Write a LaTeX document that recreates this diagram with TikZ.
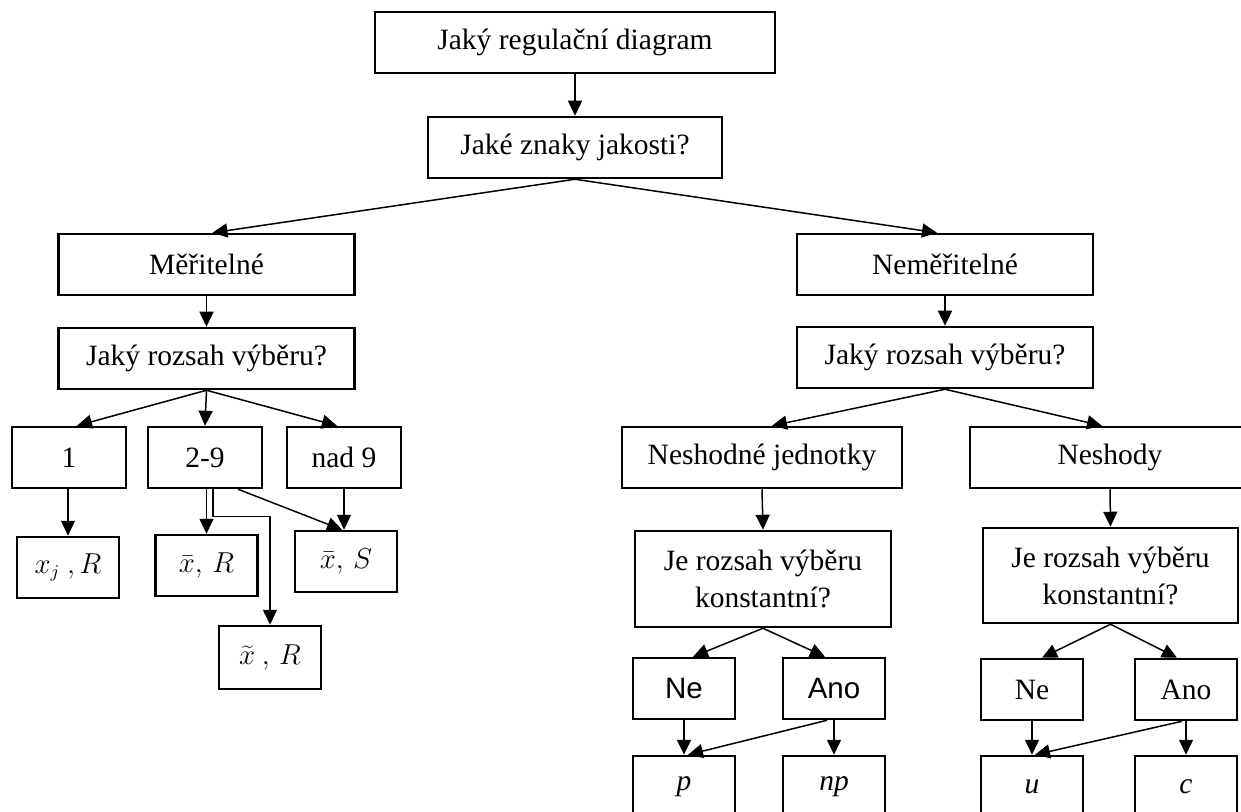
\documentclass[tikz,border=0pt]{standalone}
\usepackage{fontspec}
\setmainfont{Liberation Serif}
\newfontfamily\sansfont{Liberation Sans}
\usetikzlibrary{arrows.meta,calc}

\begin{document}
\begin{tikzpicture}[ ->, >={Triangle[length=7.5pt,width=7pt]}, line width=0.75pt
                   , x=0.5pt, y=-0.5pt
                   , box/.style={draw, -, line width=1.25pt, inner sep=0pt, align=center,
                                 font=\fontsize{14.75pt}{18.5pt}\selectfont,
                                 minimum height=30.5pt}
                   , big/.style={box, minimum width=148pt}
                   , mid/.style={box, minimum width=57pt}
                   , small/.style={box, minimum width=51pt}
                   , sans/.style={font=\fontsize{14.75pt}{18.5pt}\sansfont}
                   , formula/.style={small, font=\fontsize{13.5pt}{16pt}\selectfont}
                   ]

      \useasboundingbox (0,0) rectangle (1241,812);
      \clip (0,0) rectangle (1241,812);

      % top of the tree
      \node (top) [box, minimum width=200pt] at (575,42.5) {Jaký regulační diagram};
      \node (znaky) [box, minimum width=147pt] at (575,147.5) {Jaké znaky jakosti?};

      \node (meritelne) [big] at (206.5,264.5) {Měřitelné};
      \node (nemeritelne) [big] at (945,264.5) {Neměřitelné};
      \node (rozsahL) [big] at (206.5,358.5) {Jaký rozsah výběru?};
      \node (rozsahR) [big] at (945,357.5) {Jaký rozsah výběru?};

      % measurable branch
      \node (jedna) [mid] at (69,457.5) {1};
      \node (dvadevet) [mid] at (205,457.5) {2-9};
      \node (nad9) [mid] at (344,457.5) {nad 9};

      \node (xjR) [formula] at (68,567.5) {$x_j\ ,R$};
      \node (xbarR) [formula] at (206.5,565.5) {$\bar{x},\,R$};
      \node (xbarS) [formula] at (346,561.5) {$\bar{x},\,S$};
      \node (xtildeR) [formula, minimum height=31.5pt] at (270,657.5) {$\widetilde{x}\ ,\,R$};

      % non-measurable branch
      \node (neshodne) [box, minimum width=140pt] at (762,457.5) {Neshodné jednotky};
      \node (neshody) [box, minimum width=140pt] at (1110,457.5) {Neshody};

      \node (konstL) [box, minimum width=128pt, minimum height=48pt] at (763,579) {Je rozsah výběru\\konstantní?};
      \node (konstR) [box, minimum width=127.5pt, minimum height=47.5pt] at (1110.5,575.5) {Je rozsah výběru\\konstantní?};

      \node (neL) [small, sans] at (684,688.5) {Ne};
      \node (anoL) [small, sans] at (834,688.5) {Ano};
      \node (neR) [small] at (1032,689.5) {Ne};
      \node (anoR) [small] at (1186,689.5) {Ano};

      \node (p) [small] at (684,786.5) {\textit{p}};
      \node (np) [small] at (834,786.5) {\textit{np}};
      \node (u) [small] at (1032,786.5) {\textit{u}};
      \node (c) [small] at (1186,786.5) {\textit{c}};

      % connectors
      \draw (top.south) -- (znaky.north);
      \draw (znaky.south) -- ($(meritelne.north)+(6,0)$);
      \draw (znaky.south) -- ($(nemeritelne.north)+(-8,0)$);
      \draw (meritelne.south) -- (rozsahL.north);
      \draw (nemeritelne.south) -- (rozsahR.north);

      \draw (rozsahL.south) -- ($(jedna.north)+(8,0)$);
      \draw (rozsahL.south) -- (dvadevet.north);
      \draw (rozsahL.south) -- ($(nad9.north)+(-7,0)$);

      \draw (xjR.north |- jedna.south) -- (xjR.north);
      \draw (xbarR.north |- dvadevet.south) -- (xbarR.north);
      \draw ($(dvadevet.south)+(8,0)$) -- ++(0,27) -| (xtildeR.north);
      \draw ($(dvadevet.south)+(33,0)$) -- ($(xbarS.north)+(-4,0)$);
      \draw (nad9.south) -- (nad9.south |- xbarS.north);

      \draw (rozsahR.south) -- ($(neshodne.north)+(10,0)$);
      \draw (rozsahR.south) -- ($(neshody.north)+(-8,0)$);
      \draw (neshodne.south) -- (konstL.north);
      \draw (neshody.south) -- (konstR.north);

      \draw (konstL.south) -- ($(neL.north)+(9,0)$);
      \draw (konstL.south) -- ($(anoL.north)+(-9,0)$);
      \draw (konstR.south) -- ($(neR.north)+(10,0)$);
      \draw (konstR.south) -- ($(anoR.north)+(-9,0)$);

      \draw (neL.south) -- (p.north);
      \draw (anoL.south) -- (np.north);
      \draw ($(anoL.south)+(-7,0)$) -- ($(p.north)+(4,0)$);
      \draw (neR.south) -- (u.north);
      \draw (anoR.south) -- (c.north);
      \draw ($(anoR.south)+(-4,0)$) -- ($(u.north)+(3,0)$);

\end{tikzpicture}
\end{document}
